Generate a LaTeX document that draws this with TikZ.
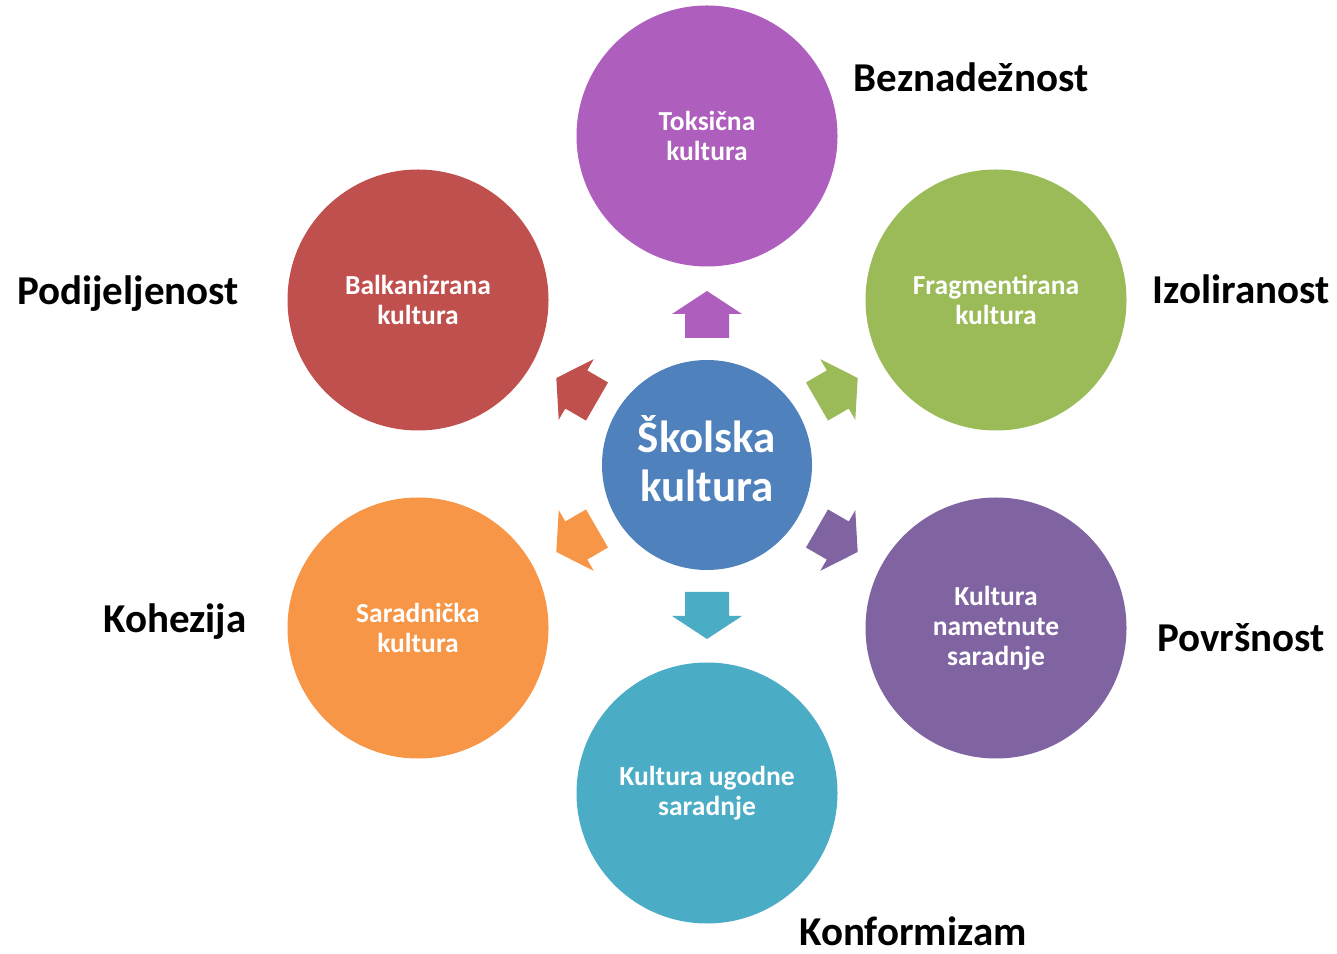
\documentclass[tikz,border=0pt]{standalone}
\usepackage{fontspec}
\setmainfont{Carlito}
\definecolor{cpurple}{HTML}{AE5EBC}
\definecolor{cred}{HTML}{C0504D}
\definecolor{cgreen}{HTML}{9BBB59}
\definecolor{cviolet}{HTML}{8064A2}
\definecolor{caqua}{HTML}{4BACC6}
\definecolor{corange}{HTML}{F79646}
\definecolor{cblue}{HTML}{4F81BD}
\begin{document}
\begin{tikzpicture}[x=1pt,y=1pt,
  outer/.style={circle,minimum size=261pt,inner sep=0pt,text=white,align=center,
    font=\bfseries\fontsize{27.5}{30}\selectfont},
  lbl/.style={font=\bfseries\fontsize{41}{44}\selectfont,inner sep=0pt}]
\useasboundingbox (0,0) rectangle (1337,953);
\fill[cblue] (707,488) circle[radius=105];
\node[text=white,align=center,font=\bfseries\fontsize{45}{49}\selectfont] (c) at (707,494) {Školska\\kultura};
\node[outer,fill=cpurple] (top) at (707,817) {Toksična\\kultura};
\node[outer,fill=cred] (ul) at (418,653) {Balkanizrana\\kultura};
\node[outer,fill=cgreen] (ur) at (996,653) {Fragmentirana\\kultura};
\node[outer,fill=corange] (ll) at (418,325) {Saradnička\\kultura};
\node[outer,fill=cviolet] (lr) at (996,325) {Kultura\\nametnute\\saradnje};
\node[outer,fill=caqua] (bot) at (707,160) {Kultura ugodne\\saradnje};
\foreach \a/\col in {90/cpurple,150/cred,30/cgreen,210/corange,330/cviolet,270/caqua}{
  \begin{scope}[shift={(707,488)},rotate=\a]
    \fill[\col] (127,-22) -- (151,-22) -- (151,-35) -- (174,0) -- (151,35) -- (151,22) -- (127,22) -- cycle;
  \end{scope}
}
\node[lbl] (l1) at (971,876) {Beznadežnost};
\node[lbl] (l2) at (128,659) {Podijeljenost};
\node[lbl] (l3) at (1241,664) {Izoliranost};
\node[lbl] (l4) at (175,331) {Kohezija};
\node[lbl] (l5) at (1241,315) {Površnost};
\node[lbl] (l6) at (913,22) {Konformizam};
\end{tikzpicture}
\end{document}
